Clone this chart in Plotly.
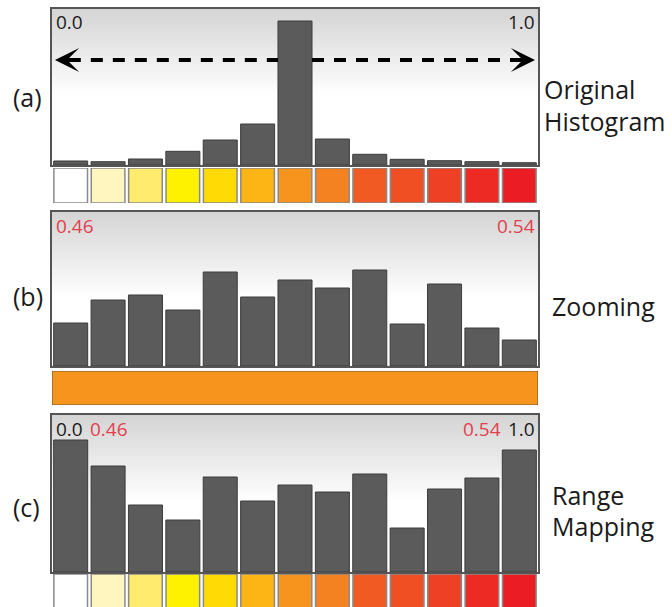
import plotly.graph_objects as go

# ---- data ----
bins = list(range(13))
orig_hist = [4, 3.3, 6, 13.7, 25, 41, 144, 26, 10.7, 5.7, 4.3, 3.3, 2.3]
zoom_hist = [43, 66, 71, 56, 94, 69, 86, 78, 96, 42, 82, 38, 26]
range_hist = [132, 106, 67, 52, 95, 71, 87, 80, 98, 44, 83, 94, 122]
cell_colors = ['#FFFFFF', '#FFF6BF', '#FFEC6E', '#FFF200', '#FFDA05', '#FDB515',
               '#F7941D', '#F58220', '#F15A22', '#F04E23', '#EE4024', '#ED2B24', '#EC1C24']
cell_vals = [1] * 13
zoom_color = '#F7941D'

W, H = 672, 607
FONT = "Open Sans"
BAR = '#5b5b5b'
RED = '#e2404d'
BW = 0.91

def px(x):
    return x / W

def py(y):
    return 1 - y / H

xl, xr = 52, 538
xdom = [px(xl), px(xr)]
panels = [  # (top_px, bottom_px, ymax, values)
    (9, 165, 156, orig_hist),
    (212, 366, 154, zoom_hist),
    (415, 572, 157, range_hist),
]
cellrows = [(168, 203), (371, 405), (574, 607)]

fig = go.Figure()
layout = dict(width=W, height=H, margin=dict(l=0, r=0, t=0, b=0),
              paper_bgcolor='white', plot_bgcolor='rgba(0,0,0,0)',
              showlegend=False, barmode='overlay')

ax_i = 1
for p, (top, bot, ymax, vals) in enumerate(panels):
    xa = 'x' if ax_i == 1 else f'x{ax_i}'
    ya = 'y' if ax_i == 1 else f'y{ax_i}'
    # gradient background (heatmap layer sits below the bars)
    gy = [0, 0.45 * ymax, ymax]
    fig.add_trace(go.Heatmap(x=[-0.5, 12.5], y=gy, z=[[0, 0], [0, 0], [1, 1]],
                             zsmooth='best', zmin=0, zmax=1, showscale=False,
                             colorscale=[[0, '#ffffff'], [1, '#d4d4d4']],
                             hoverinfo='skip', xaxis=xa, yaxis=ya))
    fig.add_trace(go.Bar(x=bins, y=vals, width=BW, marker=dict(color=BAR, line=dict(color='#3c3c3c', width=1)),
                         xaxis=xa, yaxis=ya))
    if p == 0:
        k = vals.index(max(vals))
        fig.add_trace(go.Scatter(x=[-0.05, k - BW / 2, None, k + BW / 2, 12.05], y=[105, 105, None, 105, 105],
                                 mode='lines', line=dict(color='black', width=4, dash='12px,10px'),
                                 hoverinfo='skip', xaxis=xa, yaxis=ya))
    axname = 'xaxis' if ax_i == 1 else f'xaxis{ax_i}'
    ayname = 'yaxis' if ax_i == 1 else f'yaxis{ax_i}'
    layout[axname] = dict(domain=xdom, range=[-0.5, 12.5], showgrid=False, zeroline=False,
                          showticklabels=False, ticks='', showline=True, mirror=True,
                          linecolor='#555555', linewidth=1.5, anchor=ya)
    layout[ayname] = dict(domain=[py(bot), py(top)], range=[0, ymax], showgrid=False, zeroline=False,
                          showticklabels=False, ticks='', showline=True, mirror=True,
                          linecolor='#555555', linewidth=1.5, anchor=xa)
    ax_i += 1

# colour cell rows
for r, (top, bot) in enumerate(cellrows):
    xa = f'x{ax_i}'
    ya = f'y{ax_i}'
    if r == 1:
        fig.add_trace(go.Bar(x=[6], y=[1], width=13, marker=dict(color=zoom_color, line=dict(color='#6e5a3c', width=1.2)),
                             xaxis=xa, yaxis=ya))
        yr = [0, 1]
    else:
        fig.add_trace(go.Bar(x=bins, y=cell_vals, width=0.9,
                             marker=dict(color=cell_colors, line=dict(color='#8a8a8a', width=1.5)),
                             xaxis=xa, yaxis=ya))
        yr = [0, 1] if r == 0 else [0.05, 1.0]
    layout[f'xaxis{ax_i}'] = dict(domain=xdom, range=[-0.5, 12.5], visible=False, anchor=ya)
    layout[f'yaxis{ax_i}'] = dict(domain=[max(0, py(bot)), py(top)], range=yr, visible=False, anchor=xa)
    ax_i += 1

ann = []
def label(text, x, y, size, color='#1a1a1a', xanchor='left'):
    ann.append(dict(text=text, x=px(x), y=py(y), xref='paper', yref='paper', showarrow=False,
                    xanchor=xanchor, yanchor='middle', font=dict(family=FONT, size=size, color=color)))

# big side labels
label('(a)', 11, 97, 25)
label('Original', 542, 89, 25)
label('Histogram', 542, 121, 25)
label('(b)', 11, 296, 25)
label('Zooming', 550, 306, 25)
label('(c)', 11, 507, 25)
label('Range', 550, 495, 25)
label('Mapping', 550, 526, 25)

# small range labels
label('0.0', 54, 22, 19)
label('1.0', 537, 22, 19, xanchor='right')
label('0.46', 54, 226, 19, color=RED)
label('0.54', 537, 226, 19, color=RED, xanchor='right')
label('0.0', 54, 429, 19)
label('0.46', 88, 429, 19, color=RED)
label('0.54', 503, 429, 19, color=RED, xanchor='right')
label('1.0', 537, 429, 19, xanchor='right')

# arrowheads of the dashed range arrow (panel a)
ann.append(dict(x=-0.42, y=105, xref='x', yref='y', ax=18, ay=0, text='', showarrow=True,
                arrowhead=3, arrowsize=1.15, arrowwidth=3.5, arrowcolor='black', standoff=0))
ann.append(dict(x=12.42, y=105, xref='x', yref='y', ax=-18, ay=0, text='', showarrow=True,
                arrowhead=3, arrowsize=1.15, arrowwidth=3.5, arrowcolor='black', standoff=0))
layout['annotations'] = ann

fig.update_layout(**layout)
fig.write_html("out.html")
